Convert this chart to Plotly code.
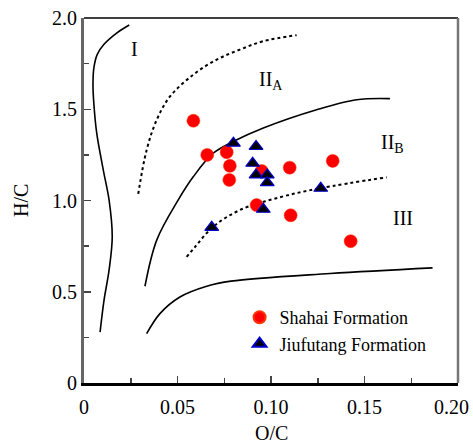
import plotly.graph_objects as go

# Data points
shahai_oc = [0.0585, 0.0659, 0.0763, 0.078, 0.0777, 0.095, 0.110, 0.133, 0.0923, 0.1105, 0.1426]
shahai_hc = [1.437, 1.25, 1.265, 1.19, 1.113, 1.162, 1.18, 1.217, 0.975, 0.919, 0.777]

jiufutang_oc = [0.0799, 0.092, 0.0902, 0.092, 0.098, 0.098, 0.0959, 0.1266, 0.0683]
jiufutang_hc = [1.314, 1.296, 1.204, 1.14, 1.14, 1.098, 0.952, 1.067, 0.853]

# Boundary curves
c1_x = [0.0242, 0.0178, 0.0107, 0.0071, 0.0053, 0.0048, 0.0053, 0.0068, 0.0103, 0.0134, 0.0151, 0.0134, 0.0107, 0.0086]
c1_y = [1.962, 1.920, 1.856, 1.801, 1.728, 1.636, 1.526, 1.369, 1.168, 1.003, 0.801, 0.618, 0.453, 0.279]

c2_x = [0.029, 0.0335, 0.0389, 0.046, 0.0585, 0.071, 0.0834, 0.0959, 0.1137]
c2_y = [1.036, 1.277, 1.442, 1.570, 1.69, 1.772, 1.827, 1.873, 1.906]

c3_x = [0.0326, 0.0389, 0.0504, 0.0585, 0.0691, 0.0798, 0.0959, 0.1244, 0.1458, 0.1636]
c3_y = [0.53, 0.783, 1.003, 1.131, 1.259, 1.323, 1.397, 1.497, 1.552, 1.558]

c4_x = [0.0549, 0.0594, 0.0691, 0.0834, 0.1048, 0.1262, 0.1619]
c4_y = [0.691, 0.746, 0.856, 0.948, 1.018, 1.067, 1.127]

c5_x = [0.0335, 0.0406, 0.0513, 0.0656, 0.0786, 0.1316, 0.1864]
c5_y = [0.27, 0.380, 0.471, 0.53, 0.558, 0.60, 0.631]

x_tickvals = [0, 0.05, 0.10, 0.15, 0.20]
x_ticktext = ["0", "0.05", "0.10", "0.15", "0.20"]
y_tickvals = [0, 0.5, 1.0, 1.5, 2.0]
y_ticktext = ["0", "0.5", "1.0", "1.5", "2.0"]

FONT = "'Liberation Serif', 'Times New Roman', Times, serif"

fig = go.Figure()

curves = [(c1_x, c1_y, "solid"), (c2_x, c2_y, "dot"), (c3_x, c3_y, "solid"),
          (c4_x, c4_y, "dot"), (c5_x, c5_y, "solid")]
for cx, cy, dash in curves:
    fig.add_trace(go.Scatter(x=cx, y=cy, mode="lines", line_shape="spline",
                             line=dict(color="black", width=2 if dash == "dot" else 1.6, dash=dash),
                             showlegend=False, hoverinfo="skip"))

fig.add_trace(go.Scatter(x=shahai_oc, y=shahai_hc, mode="markers", name="Shahai Formation",
                         marker=dict(symbol="circle", size=13, color="#ff0000",
                                     line=dict(color="#ff3300", width=0.5))))
fig.add_trace(go.Scatter(x=jiufutang_oc, y=jiufutang_hc, mode="markers", name="Jiufutang Formation",
                         marker=dict(symbol="triangle-up", size=12, color="black",
                                     line=dict(color="#0000cc", width=1.2))))

annots = [
    dict(x=0.027, y=1.83, text="I"),
    dict(x=0.1, y=1.66, text="II<sub>A</sub>"),
    dict(x=0.165, y=1.31, text="II<sub>B</sub>"),
    dict(x=0.1706, y=0.905, text="III"),
]
for a in annots:
    fig.add_annotation(x=a["x"], y=a["y"], text=a["text"], showarrow=False,
                       font=dict(family=FONT, size=20, color="black"))

# last x tick label drawn as annotation so it stays inside the page
x_last_label = x_ticktext[-1]
x_ticktext_axis = x_ticktext[:-1] + [""]
fig.add_annotation(xref="x", yref="paper", x=x_tickvals[-1], y=-0.065, xanchor="right", yanchor="middle",
                   xshift=13, text=x_last_label, showarrow=False,
                   font=dict(family=FONT, size=20, color="black"))

# axis titles
fig.add_annotation(xref="paper", yref="paper", x=0.5, y=-0.137, yanchor="middle",
                   text="O/C", showarrow=False, font=dict(family=FONT, size=20, color="black"))
fig.add_annotation(xref="paper", yref="paper", x=-0.17, y=0.5, xanchor="center",
                   text="H/C", textangle=-90, showarrow=False, font=dict(family=FONT, size=20, color="black"))

fig.add_shape(type="line", xref="paper", yref="paper", x0=0, x1=1, y0=1, y1=1,
              line=dict(color="black", width=1.5))
fig.add_shape(type="line", xref="paper", yref="paper", x0=1, x1=1, y0=0, y1=1,
              line=dict(color="#777777", width=2.5))

fig.update_layout(
    width=473, height=445,
    margin=dict(l=84, r=15, t=18, b=62),
    paper_bgcolor="white", plot_bgcolor="white",
    font=dict(family=FONT, size=20, color="black"),
    legend=dict(x=0.416, y=0.23, xanchor="left", yanchor="top",
                bgcolor="rgba(0,0,0,0)", font=dict(family=FONT, size=18),
                itemsizing="constant", tracegroupgap=0, itemwidth=30),
    xaxis=dict(range=[0, 0.2], tickvals=x_tickvals, ticktext=x_ticktext_axis, automargin=False,
               ticklabelstandoff=4,
               ticks="inside", ticklen=7, tickwidth=1.5, tickcolor="#444",
               minor=dict(dtick=0.025, ticks="inside", ticklen=5, tickcolor="#444", tickwidth=1.5),
               showline=True, linecolor="black", linewidth=2.5, showgrid=False, zeroline=False),
    yaxis=dict(range=[0, 2.0], tickvals=y_tickvals, ticktext=y_ticktext, automargin=False,
               ticklabeloverflow="allow",
               ticks="inside", ticklen=7, tickwidth=1.5, tickcolor="#444",
               minor=dict(dtick=0.25, ticks="inside", ticklen=5, tickcolor="#444", tickwidth=1.5),
               showline=True, linecolor="#666666", linewidth=3, showgrid=False, zeroline=False),
)

fig.write_html("out.html", config={"displayModeBar": False, "staticPlot": True},
               post_script="document.body.style.margin='0';document.body.style.overflow='hidden';")
